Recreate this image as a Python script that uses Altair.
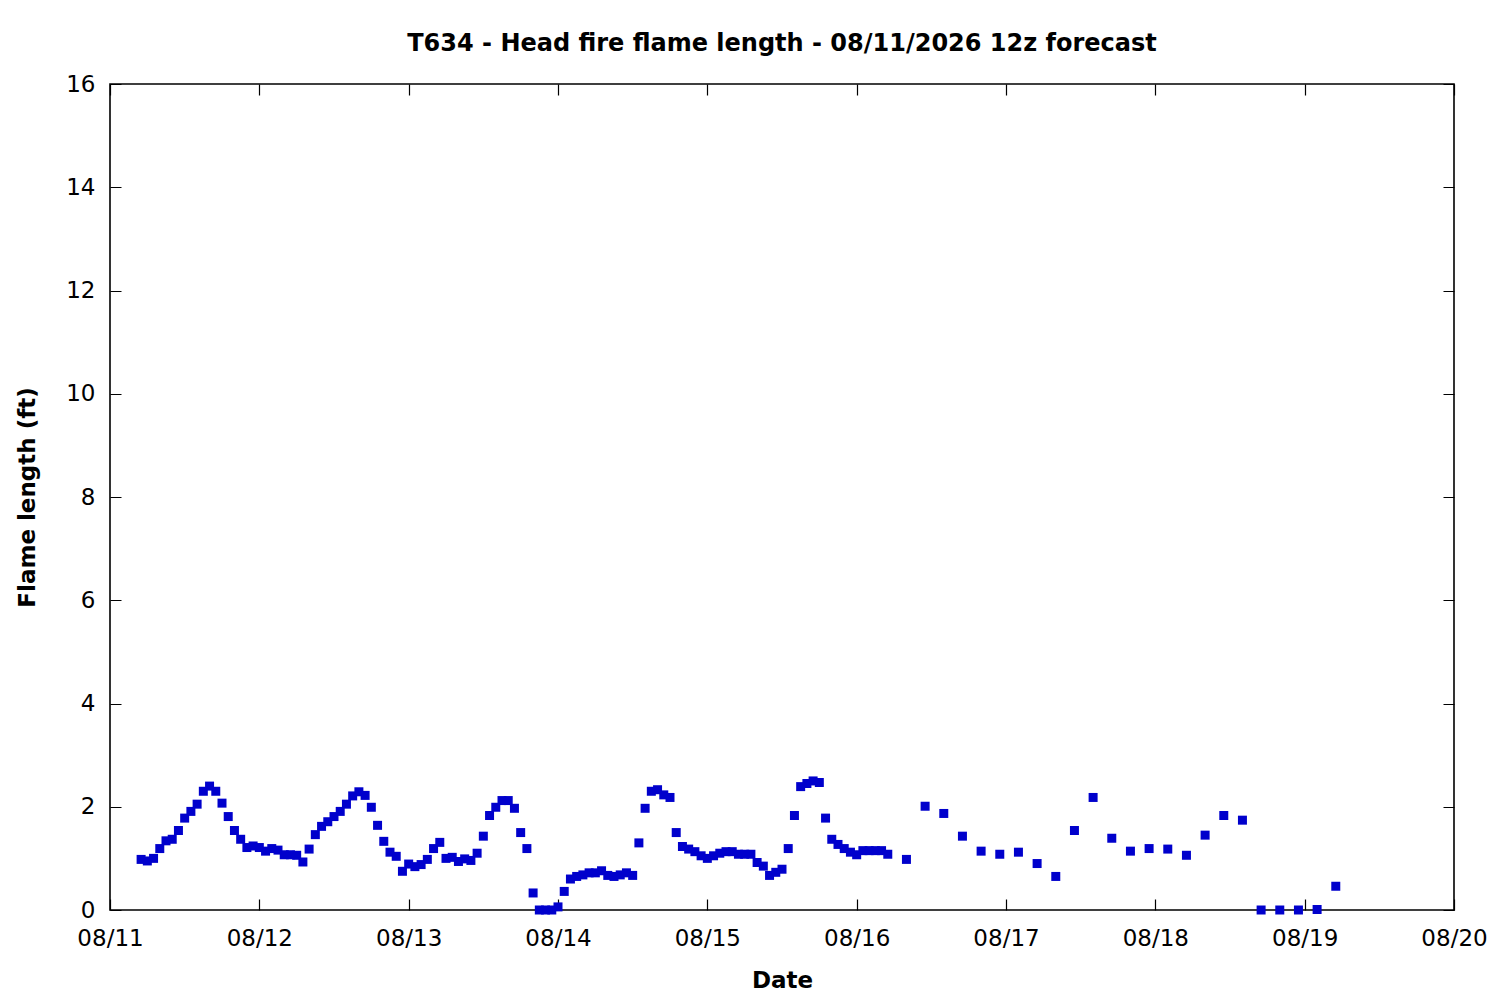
import altair as alt
import pandas as pd

# Hourly forecast values (08/11 05:00 -> 08/16 05:00)
hourly_values = [
    0.98, 0.95, 1.00, 1.19, 1.34, 1.37, 1.54, 1.78, 1.91, 2.05, 2.30, 2.40,
    2.30, 2.07, 1.81, 1.54, 1.37, 1.21, 1.24, 1.21, 1.14, 1.19, 1.16, 1.07,
    1.07, 1.06, 0.93, 1.18, 1.46, 1.62, 1.71, 1.81, 1.91, 2.05, 2.21, 2.29,
    2.22, 1.99, 1.64, 1.33, 1.12, 1.04, 0.75, 0.89, 0.84, 0.88, 0.98, 1.19,
    1.31, 1.00, 1.02, 0.94, 0.99, 0.96, 1.10, 1.43, 1.83, 1.99, 2.12, 2.12,
    1.97, 1.50, 1.19, 0.33, 0.00, 0.00, 0.00, 0.06,
    0.36, 0.60, 0.65, 0.68, 0.72, 0.72, 0.76, 0.67, 0.65, 0.68, 0.72, 0.67,
    1.30, 1.97, 2.30, 2.33, 2.23, 2.18, 1.50, 1.23, 1.18, 1.13, 1.05, 1.00,
    1.05, 1.10, 1.13, 1.13, 1.08, 1.08, 1.08, 0.92, 0.85, 0.67, 0.73, 0.79,
    1.19, 1.83, 2.39, 2.45, 2.50, 2.47, 1.78, 1.37, 1.27, 1.19, 1.12, 1.07,
    1.15, 1.15, 1.15, 1.15, 1.08,
]
hourly_start = "2026-08-11 05:00"

# 3-hourly forecast values (08/16 08:00 -> 08/19 05:00)
three_hourly_values = [
    0.98, 2.01, 1.87, 1.43, 1.14, 1.08, 1.12, 0.90, 0.65, 1.54, 2.18, 1.39,
    1.14, 1.19, 1.18, 1.06, 1.45, 1.83, 1.74, 0.00, 0.00, 0.00, 0.01, 0.46,
]
three_hourly_start = "2026-08-16 08:00"

y_ticks = [0, 2, 4, 6, 8, 10, 12, 14, 16]
day_ticks = [11, 12, 13, 14, 15, 16, 17, 18, 19, 20]

t1 = pd.date_range(hourly_start, periods=len(hourly_values), freq="h")
t2 = pd.date_range(three_hourly_start, periods=len(three_hourly_values), freq="3h")
times = [t.strftime("%Y-%m-%dT%H:%M:%SZ") for t in list(t1) + list(t2)]
df = pd.DataFrame({"time": times, "flame": hourly_values + three_hourly_values})

FONT = "DejaVu Sans"
W, H = 1344, 826
TICK = 11

x_axis = alt.Axis(
    values=[alt.DateTime(year=2026, month=8, date=d, utc=True) for d in day_ticks],
    format="%m/%d",
    labelFont=FONT, labelFontSize=23, labelColor="black",
    labelPadding=17, labelFlush=False, labelOverlap=False,
    ticks=False, tickSize=0, domain=False,
    grid=True, gridColor="black", gridOpacity=1, gridWidth=1.2,
    gridDash=[TICK, H - 2 * TICK, TICK, 0],
    title="Date", titleFont=FONT, titleFontSize=23, titleFontWeight="bold",
    titleColor="black", titleBaseline="middle", titleY=70, titleX=W / 2,
    titleAnchor="middle",
)
y_axis = alt.Axis(
    values=y_ticks,
    labelFont=FONT, labelFontSize=23, labelColor="black",
    labelPadding=15, labelFlush=False, labelOverlap=False,
    ticks=False, tickSize=0, domain=False,
    grid=True, gridColor="black", gridOpacity=1, gridWidth=1.2,
    gridDash=[TICK, W - 2 * TICK, TICK, 0],
    title="Flame length (ft)", titleFont=FONT, titleFontSize=23,
    titleFontWeight="bold", titleColor="black", titleBaseline="middle",
    titleX=-83, titleY=H / 2, titleAngle=-90, titleAnchor="middle",
)

chart = (
    alt.Chart(df)
    .mark_point(shape="square", filled=True, size=81, color="#0000CC", opacity=1)
    .encode(
        x=alt.X("time:T", axis=x_axis,
                scale=alt.Scale(type="utc",
                                domain=[alt.DateTime(year=2026, month=8, date=11, utc=True),
                                        alt.DateTime(year=2026, month=8, date=20, utc=True)],
                                nice=False)),
        y=alt.Y("flame:Q", axis=y_axis, scale=alt.Scale(domain=[0, 16], nice=False)),
    )
    .properties(
        width=W,
        height=H,
        title=alt.TitleParams(
            "T634 - Head fire flame length - 08/11/2026 12z forecast",
            font=FONT, fontSize=24, fontWeight="bold", color="black",
            anchor="middle", offset=17,
        ),
        background="white",
        autosize=alt.AutoSizeParams(type="none"),
        padding={"left": 102, "top": 76, "right": 38, "bottom": 82},
    )
    .configure_view(stroke="black", strokeWidth=1.6)
)

chart.save("out.html", embed_options={"renderer": "svg", "actions": False})
